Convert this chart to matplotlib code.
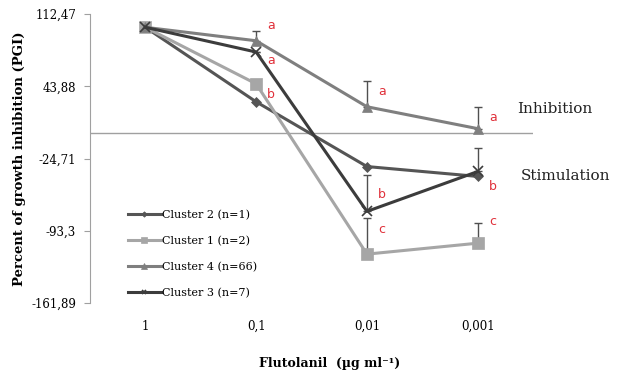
import matplotlib
matplotlib.use('Agg')
import matplotlib.pyplot as plt

# data
conc = ['1', '0,1', '0,01', '0,001']
names = ['Cluster 2 (n=1)', 'Cluster 1 (n=2)', 'Cluster 4 (n=66)', 'Cluster 3 (n=7)']
c2 = [100, 29.2, -32.3, -41.7]
c1 = [100, 46.3, -115.5, -105.1]
c4 = [100, 87.2, 24.5, 3.7]
c3 = [100, 76.5, -74.9, -37.0]
err2 = [0, 0, 0, 0]
err1 = [0, 0, 34.0, 19.0]
err4 = [0, 9.2, 24.6, 20.8]
err3 = [0, 0, 35.0, 22.7]
yticks = [112.47, 43.88, -24.71, -93.3, -161.89]
ytick_labels = ['112,47', '43,88', '-24,71', '-93,3', '-161,89']

# significance letters: (category index, y, letter)
let_x = [1, 1, 1, 2, 2, 2, 3, 3, 3]
let_y = [102, 68.9, 35.8, 38.7, -58.8, -91.9, 14.1, -51.2, -84.3]
let_txt = ['a', 'a', 'b', 'a', 'b', 'c', 'a', 'b', 'c']

series = [c2, c1, c4, c3]
errs = [err2, err1, err4, err3]
colors = ['#555555', '#a6a6a6', '#7f7f7f', '#3c3c3c']
markers = ['D', 's', '^', 'x']
msizes = [5, 8, 7, 6.5]

fig = plt.figure(figsize=(6.2, 3.83), dpi=100)
ax = fig.add_axes([0.145, 0.209, 0.715, 0.754])

x = list(range(len(conc)))
ax.axhline(0, color='#a0a0a0', lw=1, zorder=1)

for vals, e, col in zip(series, errs, colors):
    ax.errorbar(x, vals, yerr=[[0] * len(e), e], fmt='none', ecolor='#505050',
                elinewidth=1, capsize=3, capthick=1, zorder=2)

for vals, nm, col, mk, ms in zip(series, names, colors, markers, msizes):
    ax.plot(x, vals, color=col, lw=2.2, marker=mk, markersize=ms,
            markeredgewidth=1.2 if mk == 'x' else 0.5, markeredgecolor=col,
            label=nm, zorder=3)

for xi, yi, t in zip(let_x, let_y, let_txt):
    ax.text(xi + 0.1, yi, t, color='#e0303a', fontsize=9, family='DejaVu Sans',
            ha='left', va='center')

ax.set_xlim(-0.5, 3.5)
ax.set_ylim(-161.89, 112.47)
ax.set_yticks(yticks)
ax.set_yticklabels(ytick_labels, family='DejaVu Serif', fontsize=8.5)
ax.set_xticks(x)
ax.set_xticklabels(conc, family='DejaVu Serif', fontsize=8.5)
ax.tick_params(axis='x', length=0, pad=12)
ax.tick_params(axis='y', length=4, color='#a0a0a0', pad=6)
for s in ['top', 'right', 'bottom']:
    ax.spines[s].set_visible(False)
ax.spines['left'].set_color('#a0a0a0')

ax.set_ylabel('Percent of growth inhibition (PGI)', family='DejaVu Serif',
              fontsize=9.5, fontweight='bold', labelpad=4)
fig.text(0.532, 0.05, 'Flutolanil  (\u00b5g ml\u207b\u00b9)', family='DejaVu Serif',
         fontsize=9, fontweight='bold', ha='center', va='center')

fig.text(0.834, 0.716, 'Inhibition', family='DejaVu Serif', fontsize=11,
         ha='left', va='center', color='#222222')
fig.text(0.840, 0.540, 'Stimulation', family='DejaVu Serif', fontsize=11,
         ha='left', va='center', color='#222222')

leg = ax.legend(loc='upper left', bbox_to_anchor=(0.075, 0.338), frameon=False,
                prop={'family': 'DejaVu Serif', 'size': 8}, handlelength=3.0,
                handletextpad=0.1, labelspacing=1.42, borderaxespad=0,
                markerscale=0.55)

fig.savefig('out.png', dpi=100)
